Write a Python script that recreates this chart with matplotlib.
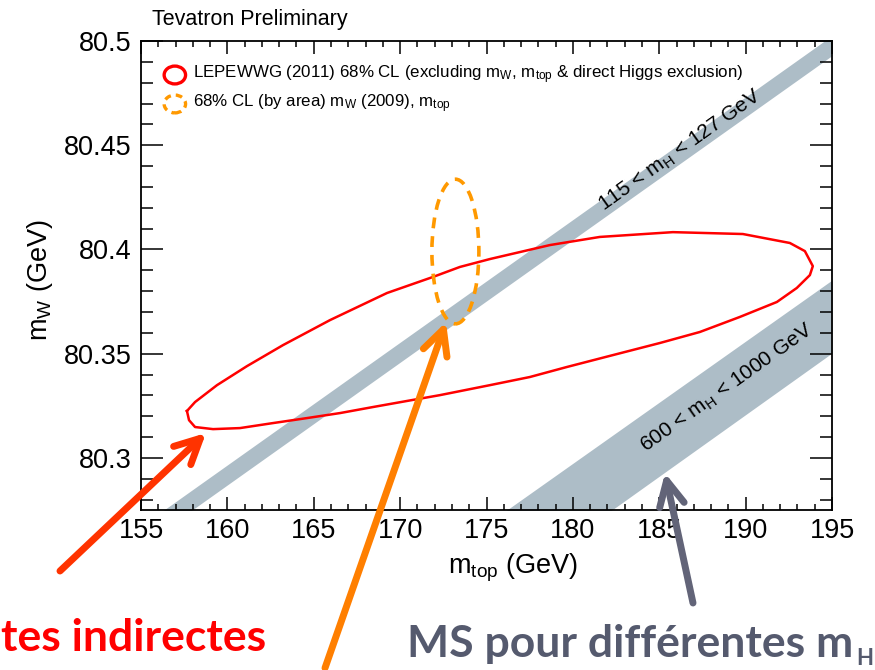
import numpy as np
import matplotlib
matplotlib.use("Agg")
import matplotlib.pyplot as plt
from matplotlib.patches import Ellipse

plt.rcParams['font.family'] = ['Liberation Sans', 'DejaVu Sans']
plt.rcParams['mathtext.default'] = 'regular'

# LEPEWWG 2011 68% CL contour
lep_mtop = [157.66, 158.13, 159.40, 161.13, 163.22, 165.94, 169.24, 171.90, 173.46, 175.20,
            178.67, 181.56, 185.79, 189.84, 192.56, 193.43, 193.89, 193.72, 192.96,
            191.81, 189.66, 187.35, 185.03, 182.31, 179.65, 177.51, 175.20, 172.30, 170.39,
            168.43, 166.52, 164.61, 162.64, 160.73, 159.17, 158.13, 157.78, 157.66]
lep_mw = [80.3225, 80.3268, 80.3349, 80.3440, 80.3541, 80.3661, 80.3791, 80.3868, 80.3916, 80.3954,
          80.4021, 80.4060, 80.4083, 80.4074, 80.4031, 80.3992, 80.3920, 80.3877, 80.3815,
          80.3748, 80.3676, 80.3604, 80.3551, 80.3493, 80.3436, 80.3388, 80.3349, 80.3301, 80.3273,
          80.3244, 80.3215, 80.3191, 80.3167, 80.3143, 80.3138, 80.3148, 80.3181, 80.3225]

# direct measurements (68% CL by area)
mtop_c, mtop_half = 173.2, 1.36
mw_c, mw_half = 80.399, 0.0347

# SM bands: y at x = 155 and x = 195
band_x = [155, 195]
light_lo = [80.2576, 80.4930]
light_hi = [80.2672, 80.5026]
heavy_lo = [80.1139, 80.3503]
heavy_hi = [80.1509, 80.3853]

band_col = '#adbdc7'

fig = plt.figure(figsize=(8.75, 6.7), dpi=100)
ax = fig.add_axes([141/875, 1-510/670, 691/875, 469/670])

ax.fill_between(band_x, light_lo, light_hi, color=band_col, lw=0, zorder=1)
ax.fill_between(band_x, heavy_lo, heavy_hi, color=band_col, lw=0, zorder=1)

ax.plot(lep_mtop, lep_mw, color='#ff0000', lw=1.8, zorder=3)
ax.add_patch(Ellipse((mtop_c, mw_c), 2*mtop_half, 2*mw_half, fill=False,
                     ec='#ff9900', lw=2.6, ls=(0, (3, 2.2)), zorder=3))

ax.set_xlim(155, 195)
ax.set_ylim(80.275, 80.5)
ax.set_xticks(np.arange(155, 196, 5))
ax.set_xticks(np.arange(155, 196, 1), minor=True)
ax.set_yticks([80.3, 80.35, 80.4, 80.45, 80.5])
ax.set_yticklabels(['80.3', '80.35', '80.4', '80.45', '80.5'])
ax.set_yticks(np.arange(80.28, 80.5, 0.01), minor=True)
ax.tick_params(which='both', direction='in', top=True, right=True, width=1.1, labelsize=19.5)
ax.tick_params(axis='x', which='major', length=9.5, pad=6)
ax.tick_params(axis='x', which='minor', length=4.5)
ax.tick_params(axis='y', which='major', length=15.5, pad=7)
ax.tick_params(axis='y', which='minor', length=8.5)
for s in ax.spines.values():
    s.set_linewidth(1.3)

fig.text(513/875, 1-568/670, r'm$_{top}$ (GeV)', fontsize=19.5, ha='center', va='center')
fig.text(40/875, 1-280/670, r'm$_W$ (GeV)', fontsize=19.5, ha='center', va='center', rotation=90)
fig.text(152/875, 1-25/670, 'Tevatron Preliminary', fontsize=15.5, ha='left', va='baseline')

# legend drawn by hand
ax.add_patch(Ellipse((0.049, 0.9275), 0.031, 0.038, transform=ax.transAxes,
                     fill=False, ec='#ff0000', lw=2.4, zorder=5))
ax.add_patch(Ellipse((0.049, 0.8657), 0.031, 0.038, transform=ax.transAxes,
                     fill=False, ec='#ff9900', lw=2.4, ls=(0, (2, 1.5)), zorder=5))
ax.text(0.0753, 0.9275, r'LEPEWWG (2011) 68% CL (excluding m$_W$, m$_{top}$ & direct Higgs exclusion)',
        transform=ax.transAxes, fontsize=12.2, va='center', ha='left')
ax.text(0.0753, 0.8657, r'68% CL (by area) m$_W$ (2009), m$_{top}$',
        transform=ax.transAxes, fontsize=12.2, va='center', ha='left')

# band labels
ax.text(186.2, 80.4475, r'115 < m$_H$ < 127 GeV', fontsize=15, rotation=35.5,
        ha='center', va='center', rotation_mode='anchor')
ax.text(188.9, 80.3335, r'600 < m$_H$ < 1000 GeV', fontsize=15, rotation=35.5,
        ha='center', va='center', rotation_mode='anchor')

# arrows (figure coordinates)
def arrow(tail, head, col):
    ax.annotate('', xy=(head[0]/875, 1-head[1]/670), xycoords='figure fraction',
                xytext=(tail[0]/875, 1-tail[1]/670), textcoords='figure fraction',
                arrowprops=dict(arrowstyle='->,head_length=0.9,head_width=0.45', color=col,
                                lw=5, mutation_scale=20, shrinkA=0, shrinkB=0),
                annotation_clip=False, zorder=10)

arrow((60, 571), (206, 433), '#ff3300')
arrow((325, 668), (446, 322), '#ff7f00')
arrow((693, 603), (665, 473), '#626478')

fig.text(1/875, 1-651/670, 'tes indirectes', fontsize=32, fontweight='bold',
         family='Lato', color='#ff0000', ha='left', va='baseline')
fig.text(407/875, 1-657/670, 'MS pour différentes m', fontsize=32, fontweight='bold',
         family='Lato', color='#555a6e', ha='left', va='baseline')
fig.text(873/875, 1-665/670, 'H', fontsize=16, fontweight='bold',
         family='Lato', color='#555a6e', ha='right', va='baseline')

fig.savefig('out.png', dpi=100)
